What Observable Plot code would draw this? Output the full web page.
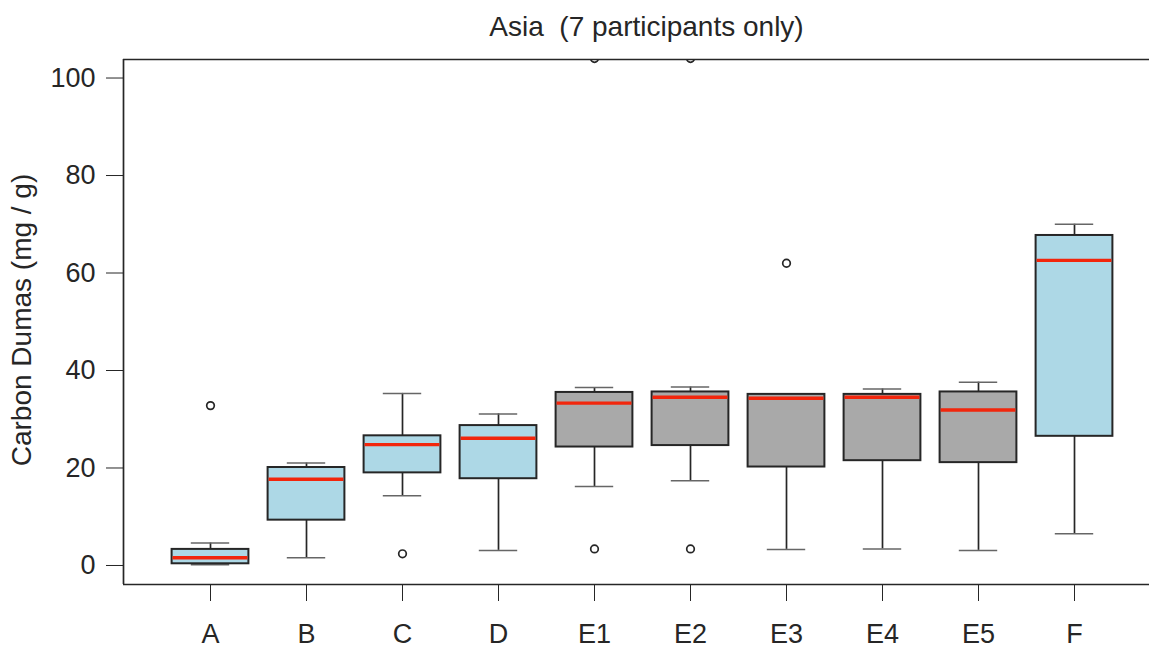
<!DOCTYPE html>
<html>
<head>
<meta charset="utf-8">
<script src="https://cdn.jsdelivr.net/npm/d3@7"></script>
<script src="https://cdn.jsdelivr.net/npm/@observablehq/plot@0.6"></script>
<style>
  html, body { margin: 0; padding: 0; background: #fff; }
  #chart { width: 1149px; height: 649px; }
</style>
</head>
<body>
<div id="chart"></div>
<script>
const titleText = "Asia  (7 participants only)";
const yLabelText = "Carbon Dumas (mg / g)";
const categories = ["A", "B", "C", "D", "E1", "E2", "E3", "E4", "E5", "F"];
const whiskerLow  = [0.15, 1.6, 14.3, 3.1, 16.2, 17.4, 3.3, 3.4, 3.1, 6.5];
const quart1      = [0.35, 9.3, 19.0, 17.8, 24.3, 24.6, 20.2, 21.5, 21.1, 26.5];
const medians     = [1.6, 17.7, 24.8, 26.1, 33.3, 34.5, 34.3, 34.5, 31.9, 62.6];
const quart3      = [3.3, 20.1, 26.6, 28.7, 35.5, 35.6, 35.1, 35.1, 35.6, 67.7];
const whiskerHigh = [4.6, 21.0, 35.3, 31.1, 36.5, 36.6, 35.2, 36.2, 37.6, 70.0];
const boxGroup    = ["other", "other", "other", "other", "E", "E", "E", "E", "E", "other"];
const outlierCategory = ["A", "C", "E1", "E1", "E2", "E2", "E3"];
const outlierValue    = [32.8, 2.4, 3.4, 104, 3.4, 104, 62.0];
const yTicks = [0, 20, 40, 60, 80, 100];

const boxes = categories.map((c, i) => ({
  cat: c, pos: i + 1,
  lo: whiskerLow[i], q1: quart1[i], med: medians[i], q3: quart3[i], hi: whiskerHigh[i],
  group: boxGroup[i]
}));
const outliers = outlierCategory.map((c, i) => ({pos: categories.indexOf(c) + 1, v: outlierValue[i]}));

const xDomain = [0.09375, 10.78125];
const yDomain = [-3.9, 103.8];
const ink = "#262626";
const font = "'Liberation Sans', Arial, Helvetica, sans-serif";

const chart = Plot.plot({
  width: 1149,
  height: 649,
  marginLeft: 123,
  marginRight: 0,
  marginTop: 59,
  marginBottom: 65,
  style: {fontFamily: font, fontSize: "27px", color: ink, background: "#fff"},
  x: {
    type: "linear", domain: xDomain, ticks: categories.map((c, i) => i + 1),
    tickFormat: d => categories[d - 1], tickSize: 17, tickPadding: 22, label: null
  },
  y: {domain: yDomain, ticks: yTicks, tickSize: 17, tickPadding: 11, label: null},
  color: {domain: ["other", "E"], range: ["#add8e6", "#a9a9a9"]},
  marks: [
    // whiskers
    Plot.ruleX(boxes, {x: "pos", y1: "q3", y2: "hi", stroke: ink, strokeWidth: 1.7}),
    Plot.ruleX(boxes, {x: "pos", y1: "lo", y2: "q1", stroke: ink, strokeWidth: 1.7}),
    Plot.ruleY(boxes, {y: "hi", x1: d => d.pos - 0.2, x2: d => d.pos + 0.2, stroke: "#666", strokeWidth: 1.5}),
    Plot.ruleY(boxes, {y: "lo", x1: d => d.pos - 0.2, x2: d => d.pos + 0.2, stroke: "#666", strokeWidth: 1.5}),
    // boxes
    Plot.rect(boxes, {x1: d => d.pos - 0.4, x2: d => d.pos + 0.4, y1: "q1", y2: "q3", fill: "group", stroke: ink, strokeWidth: 2}),
    // medians
    Plot.ruleY(boxes, {y: "med", x1: d => d.pos - 0.39, x2: d => d.pos + 0.39, stroke: "#f2260c", strokeWidth: 3.4}),
    // outliers
    Plot.dot(outliers, {x: "pos", y: "v", r: 3.8, stroke: ink, strokeWidth: 1.7, fill: "none", clip: true}),
    // frame (left, top, bottom; right edge lies beyond the image)
    Plot.ruleY([yDomain[0], yDomain[1]], {stroke: ink, strokeWidth: 1.7}),
    Plot.ruleX([xDomain[0]], {stroke: ink, strokeWidth: 1.7}),
    // title and y label
    Plot.text([titleText], {frameAnchor: "top", lineAnchor: "middle", textAnchor: "middle", dy: -32, dx: 10, fontSize: 28, fill: ink}),
    Plot.text([yLabelText], {frameAnchor: "left", lineAnchor: "middle", textAnchor: "middle", rotate: -90, dx: -101, dy: -2, fontSize: 28, fill: ink})
  ]
});
document.getElementById("chart").appendChild(chart);
</script>
</body>
</html>
